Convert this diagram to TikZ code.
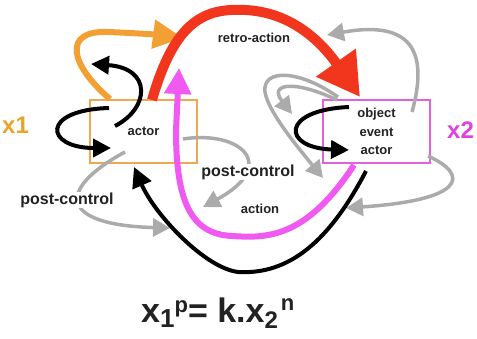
\documentclass[tikz,border=0pt]{standalone}
\usepackage{fontspec}
\setmainfont{Liberation Sans}
\usetikzlibrary{arrows.meta}
\definecolor{cOrange}{HTML}{F2A033}
\definecolor{cBoxO}{HTML}{F0A850}
\definecolor{cRed}{HTML}{F2361E}
\definecolor{cMag}{HTML}{F05AF0}
\definecolor{cBoxM}{HTML}{E060E0}
\definecolor{cXtwo}{HTML}{E040E0}
\definecolor{cXone}{HTML}{EBA22A}
\definecolor{cGrey}{HTML}{ABABAB}
\definecolor{cText}{HTML}{222222}
\begin{document}
\begin{tikzpicture}[x=1pt,y=-1pt,
  box/.style={draw, line width=2pt, minimum width=107pt, minimum height=63pt, inner sep=0pt, text=cText, align=center},
  lbl/.style={font=\bfseries\fontsize{13}{15}\selectfont, text=cText, inner sep=1pt},
  biglbl/.style={font=\bfseries\fontsize{16}{18}\selectfont, text=cText, fill=white, inner sep=1pt},
  greyarr/.style={draw=cGrey, line width=3.5pt, -{Triangle[length=17pt,width=18pt]}},
  blackarr/.style={draw=black, line width=4pt, -{Triangle[length=20pt,width=20pt]}},
  orangearr/.style={draw=cOrange, line width=6pt, -{Triangle[length=30pt,width=28pt]}},
  redarr/.style={draw=cRed, line width=10pt, -{Triangle[length=42pt,width=46pt]}},
  magarr/.style={draw=cMag, line width=6pt, -{Triangle[length=26pt,width=26pt]}},
]
\useasboundingbox (0,0) rectangle (477,338);

% boxes
\node[box, draw=cBoxO, font=\bfseries\fontsize{13}{15}\selectfont] (A) at (143.5,131.5) {actor};
\node[box, draw=cBoxM, font=\bfseries\fontsize{13}{18.5}\selectfont] (B) at (376.5,131.5) {object\\event\\actor};

% side labels
\node[anchor=base west, inner sep=0pt, text=cXone, font=\bfseries\fontsize{24}{24}\selectfont] (X1) at (2,133) {x1};
\node[anchor=base west, inner sep=0pt, text=cXtwo, font=\bfseries\fontsize{24}{24}\selectfont] (X2) at (447,138) {x2};

% coordinates
\coordinate (ga1) at (412,112); \coordinate (ga2) at (327,35);
\coordinate (gb1) at (338,97);  \coordinate (gb2) at (323,178);
\coordinate (gc1) at (337,100); \coordinate (gc2) at (292,114);
\coordinate (gd1) at (183,139); \coordinate (gd2) at (203,207);
\coordinate (ge1) at (428,156); \coordinate (ge2) at (346,208);
\coordinate (gf1) at (125,152); \coordinate (gf2) at (170,228);

% grey arrows
\draw[greyarr] (ga1) .. controls (432,40) and (400,22) .. (ga2);
\draw[greyarr] (gb1) .. controls (300,70) and (262,68) .. (265,92) .. controls (268,112) and (300,150) .. (gb2);
\draw[greyarr] (gc1) .. controls (295,80) and (268,83) .. (gc2);
\draw[greyarr] (gd1) .. controls (240,130) and (280,165) .. (gd2);
\draw[greyarr] (ge1) .. controls (470,175) and (465,200) .. (ge2);
\draw[greyarr] (gf1) .. controls (55,190) and (60,225) .. (gf2);

% labels over grey arrows
\node[biglbl] (PC1) at (248,172) {post-control};
\node[biglbl] (PC2) at (67,200) {post-control};
\node[lbl] (ACT) at (260,209) {action};
\node[lbl] (RA) at (254,38) {retro-action};

% coloured arrows
\coordinate (oS) at (110,99);  \coordinate (oT) at (183,38);
\coordinate (mS) at (354,165); \coordinate (mT) at (179,68);
\coordinate (rS) at (152,100); \coordinate (rT) at (360,97);
\coordinate (bS) at (366,171); \coordinate (bT) at (134,167);
\coordinate (k1S) at (115,126); \coordinate (k1T) at (91,64);
\coordinate (k2S) at (109,108); \coordinate (k2T) at (111,148);
\coordinate (k3S) at (349,107); \coordinate (k3T) at (349,150);

\draw[orangearr] (oS) .. controls (70,65) and (62,30) .. (108,32) .. controls (135,33) and (160,35) .. (oT);
\draw[magarr] (mS) .. controls (305,240) and (265,238) .. (232,236) .. controls (190,234) and (176,200) .. (176,130) -- (mT);
\draw[redarr] (rS) .. controls (175,20) and (205,8) .. (245,10) .. controls (290,12) and (320,40) .. (rT);
\draw[blackarr] (bS) .. controls (330,240) and (290,275) .. (238,272) .. controls (205,268) and (155,215) .. (bT);
\draw[blackarr, -{Triangle[length=18pt,width=18pt]}] (k1S) .. controls (150,108) and (152,68) .. (k1T);
\draw[blackarr, -{Triangle[length=18pt,width=18pt]}] (k2S) .. controls (40,110) and (45,148) .. (k2T);
\draw[blackarr, -{Triangle[length=18pt,width=18pt]}] (k3S) .. controls (280,110) and (282,148) .. (k3T);

% formula
\node[anchor=base west, inner sep=0pt, text=cText, font=\bfseries\fontsize{34}{34}\selectfont] (F) at (141,322)
  {x\raisebox{-5pt}{\fontsize{26}{26}\selectfont 1}\raisebox{10pt}{\fontsize{22}{22}\selectfont p}= k.x\raisebox{-6pt}{\fontsize{24}{24}\selectfont 2}\kern3pt\raisebox{12pt}{\fontsize{22}{22}\selectfont n}};
\end{tikzpicture}
\end{document}
